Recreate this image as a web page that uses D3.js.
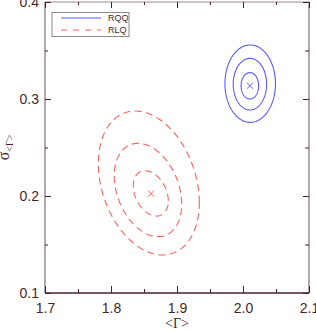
<!DOCTYPE html>
<html>
<head>
<meta charset="utf-8">
<script src="https://cdn.jsdelivr.net/npm/d3@7"></script>
<style>
  body { margin: 0; background: #fff; }
  svg { display: block; }
</style>
</head>
<body>
<div id="chart"></div>
<script>
// best-fit points
var centerNames = ["RQQ", "RLQ"];
var centerX = [2.0105, 1.8606];
var centerY = [0.3137, 0.2024];

// contour ellipses: centre, half widths, correlation
var rqqCx = [2.0104, 2.0105, 2.0109];
var rqqCy = [0.3136, 0.3153, 0.3158];
var rqqHx = [0.0133, 0.0253, 0.0383];
var rqqHy = [0.0136, 0.0266, 0.0399];
var rqqRho = [0, 0, 0];

var rlqCx = [1.8603, 1.8560, 1.8573];
var rlqCy = [0.2027, 0.2062, 0.2134];
var rlqHx = [0.0265, 0.0511, 0.0765];
var rlqHy = [0.0234, 0.0481, 0.0742];
var rlqRho = [-0.33, -0.30, -0.27];

var xTicks = [1.7, 1.8, 1.9, 2.0, 2.1];
var yTicks = [0.1, 0.2, 0.3, 0.4];
var xMinor = [1.75, 1.85, 1.95, 2.05];
var yMinor = [0.15, 0.25, 0.35];

var svgWidth = 316, svgHeight = 331;
var margin = {top: 2, right: 7, bottom: 38, left: 45};
var chartWidth = svgWidth - margin.left - margin.right;
var chartHeight = svgHeight - margin.top - margin.bottom;

var ink = "#4a1f30";
var frame = "#9c8891";

var svg = d3.select("#chart").append("svg")
    .attr("width", svgWidth)
    .attr("height", svgHeight);

var chartGroup = svg.append("g")
    .attr("transform", `translate(${margin.left}, ${margin.top})`);

var x = d3.scaleLinear().domain([1.7, 2.1]).range([0, chartWidth]);
var y = d3.scaleLinear().domain([0.1, 0.4]).range([chartHeight, 0]);

// frame lines
chartGroup.append("line").attr("x1", 0).attr("x2", 0).attr("y1", 0).attr("y2", chartHeight)
    .attr("stroke", frame).attr("stroke-width", 1.5);
chartGroup.append("line").attr("x1", 0).attr("x2", chartWidth).attr("y1", 0).attr("y2", 0)
    .attr("stroke", frame).attr("stroke-width", 1.2);
chartGroup.append("line").attr("x1", chartWidth).attr("x2", chartWidth).attr("y1", 0).attr("y2", chartHeight)
    .attr("stroke", frame).attr("stroke-width", 1.5);

function styleAxis(g) {
    g.select(".domain").remove();
    g.selectAll(".tick line").attr("stroke", ink);
    g.selectAll("text")
        .attr("fill", ink)
        .style("font-family", "'Liberation Sans', Arial, sans-serif")
        .style("font-size", "14px");
}

// bottom
chartGroup.append("g")
    .attr("transform", `translate(0, ${chartHeight})`)
    .call(d3.axisBottom(x).tickValues(xTicks).tickFormat(d3.format(".1f")).tickSize(-7).tickPadding(10))
    .call(styleAxis);
chartGroup.append("g")
    .attr("transform", `translate(0, ${chartHeight})`)
    .call(d3.axisBottom(x).tickValues(xMinor).tickFormat("").tickSize(-4))
    .call(styleAxis);
chartGroup.append("line").attr("x1", 0).attr("x2", chartWidth)
    .attr("y1", chartHeight).attr("y2", chartHeight)
    .attr("stroke", ink).attr("stroke-width", 1.5);

// top
chartGroup.append("g")
    .call(d3.axisTop(x).tickValues(xTicks).tickFormat("").tickSize(-6))
    .call(styleAxis);
chartGroup.append("g")
    .call(d3.axisTop(x).tickValues(xMinor).tickFormat("").tickSize(-3))
    .call(styleAxis);

// left
chartGroup.append("g")
    .call(d3.axisLeft(y).tickValues(yTicks).tickFormat(d3.format(".1f")).tickSize(-6).tickPadding(6))
    .call(styleAxis);
chartGroup.append("g")
    .call(d3.axisLeft(y).tickValues(yMinor).tickFormat("").tickSize(-3))
    .call(styleAxis);

// right
chartGroup.append("g")
    .attr("transform", `translate(${chartWidth}, 0)`)
    .call(d3.axisRight(y).tickValues(yTicks).tickFormat("").tickSize(-6))
    .call(styleAxis);
chartGroup.append("g")
    .attr("transform", `translate(${chartWidth}, 0)`)
    .call(d3.axisRight(y).tickValues(yMinor).tickFormat("").tickSize(-4))
    .call(styleAxis);

// contour outline from ellipse parameters
function ellipsePoints(cx, cy, hx, hy, rho) {
    var pts = [];
    for (var i = 0; i <= 180; i++) {
        var t = i / 180 * 2 * Math.PI;
        pts.push({
            gx: cx + hx * Math.cos(t),
            gy: cy + hy * (rho * Math.cos(t) + Math.sqrt(1 - rho * rho) * Math.sin(t))
        });
    }
    return pts;
}

var drawLine = d3.line()
    .x(d => x(d.gx))
    .y(d => y(d.gy));

var blue = "#5b5bff";
var red = "#ff5f5f";

rqqCx.forEach(function(cx, i) {
    chartGroup.append("path")
        .attr("d", drawLine(ellipsePoints(cx, rqqCy[i], rqqHx[i], rqqHy[i], rqqRho[i])))
        .attr("stroke", blue)
        .attr("stroke-width", 1.1)
        .attr("fill", "none");
});

rlqCx.forEach(function(cx, i) {
    chartGroup.append("path")
        .attr("d", drawLine(ellipsePoints(cx, rlqCy[i], rlqHx[i], rlqHy[i], rlqRho[i])))
        .attr("stroke", red)
        .attr("stroke-width", 1.1)
        .attr("stroke-dasharray", "7,4.5")
        .attr("fill", "none");
});

// best-fit crosses
var markColors = [blue, red];
centerX.forEach(function(cx, i) {
    var px = x(cx), py = y(centerY[i]), s = 3;
    chartGroup.append("path")
        .attr("d", `M${px - s},${py - s}L${px + s},${py + s}M${px - s},${py + s}L${px + s},${py - s}`)
        .attr("stroke", markColors[i])
        .attr("stroke-width", 1);
});

// legend
var legend = svg.append("g").attr("transform", "translate(52, 12.5)");
legend.append("rect")
    .attr("width", 77).attr("height", 24)
    .attr("fill", "#fff")
    .attr("stroke", "#8a8a8a")
    .attr("stroke-width", 1);
var dashes = [null, "6,6"];
centerNames.forEach(function(name, i) {
    var ly = 5.5 + i * 12;
    legend.append("line")
        .attr("x1", 9).attr("x2", 49)
        .attr("y1", ly).attr("y2", ly)
        .attr("stroke", markColors[i])
        .attr("stroke-width", 1.1)
        .attr("stroke-dasharray", dashes[i]);
    legend.append("text")
        .attr("x", 56).attr("y", ly + 3.3)
        .attr("fill", ink)
        .style("font-family", "'Liberation Sans', Arial, sans-serif")
        .style("font-size", "9px")
        .text(name);
});

// axis titles
svg.append("text")
    .attr("x", margin.left + chartWidth / 2)
    .attr("y", 328)
    .attr("text-anchor", "middle")
    .attr("fill", ink)
    .style("font-family", "'Liberation Serif', 'DejaVu Serif', serif")
    .style("font-size", "14px")
    .text("<Γ>");

var yTitle = svg.append("text")
    .attr("transform", `translate(9, ${margin.top + chartHeight / 2}) rotate(-90)`)
    .attr("text-anchor", "middle")
    .attr("fill", ink)
    .style("font-family", "'Liberation Serif', 'DejaVu Serif', serif")
    .style("font-size", "16px");
yTitle.append("tspan").text("σ");
yTitle.append("tspan").attr("dy", 4).style("font-size", "10px").text("<Γ>");
</script>
</body>
</html>
